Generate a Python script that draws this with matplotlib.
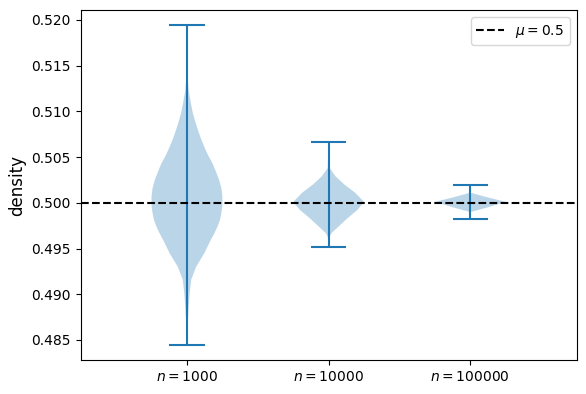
import matplotlib
matplotlib.use("Agg")
import matplotlib.pyplot as plt
import numpy as np

# etiketler ve konumlar
etiketler = [r"$n=1000$", r"$n=10000$", r"$n=100000$"]
konumlar = [1, 2, 3]

# uç değerler (min, max)
minler = [0.4845, 0.4952, 0.4982]
maxlar = [0.5194, 0.5067, 0.5019]

# yoğunluk profilleri (y değeri, göreli genişlik)
y1 = [0.4845, 0.4857, 0.4872, 0.4886, 0.4901, 0.4916, 0.4930, 0.4945, 0.4959,
      0.4967, 0.4974, 0.4981, 0.4989, 0.4997, 0.5007, 0.5016, 0.5025, 0.5034,
      0.5043, 0.5052, 0.5061, 0.5070, 0.5080, 0.5089, 0.5098, 0.5110, 0.5123,
      0.5135, 0.5150, 0.5194]
g1 = [0.0, 0.3, 1.0, 1.7, 2.7, 4.3, 9.3, 17.7, 24, 28, 31, 33.5, 35, 36, 36,
      35, 32.7, 29.5, 26, 21.5, 17.7, 14.3, 11, 8.4, 6, 3.8, 1.7, 0.8, 0.3, 0.0]

y2 = [0.4952, 0.4963, 0.4967, 0.4974, 0.4983, 0.4992, 0.5001, 0.5011, 0.5020,
      0.5029, 0.5038, 0.5067]
g2 = [0.0, 1, 3, 10, 19, 29, 36, 27, 16, 7, 1, 0.0]

y3 = [0.4982, 0.4990, 0.4995, 0.5001, 0.5006, 0.5011, 0.5019]
g3 = [0.0, 0.3, 16, 33, 16, 0.3, 0.0]

profiller = [(y1, g1), (y2, g2), (y3, g3)]

istatistik = []
for (yy, gg), mn, mx in zip(profiller, minler, maxlar):
    istatistik.append({
        "coords": np.array(yy),
        "vals": np.array(gg, dtype=float),
        "mean": 0.5, "median": 0.5,
        "min": mn, "max": mx,
    })

fig = plt.figure(figsize=(5.86, 3.94), dpi=100)
ax = fig.add_axes([0.1377, 0.0863, 0.8463, 0.8883])
ax.violin(istatistik, positions=konumlar, widths=0.5,
          showmeans=False, showextrema=True, showmedians=False)
ax.axhline(0.5, color="k", linestyle="--", label=r"$\mu=0.5$")
ax.set_xticks(konumlar)
ax.set_xticklabels(etiketler)
ax.set_xlim(0.25, 3.75)
ax.set_ylim(0.48281, 0.52109)
ax.set_ylabel("density", fontsize=12)
ax.legend(loc="upper right")
fig.savefig("out.png", dpi=100)
